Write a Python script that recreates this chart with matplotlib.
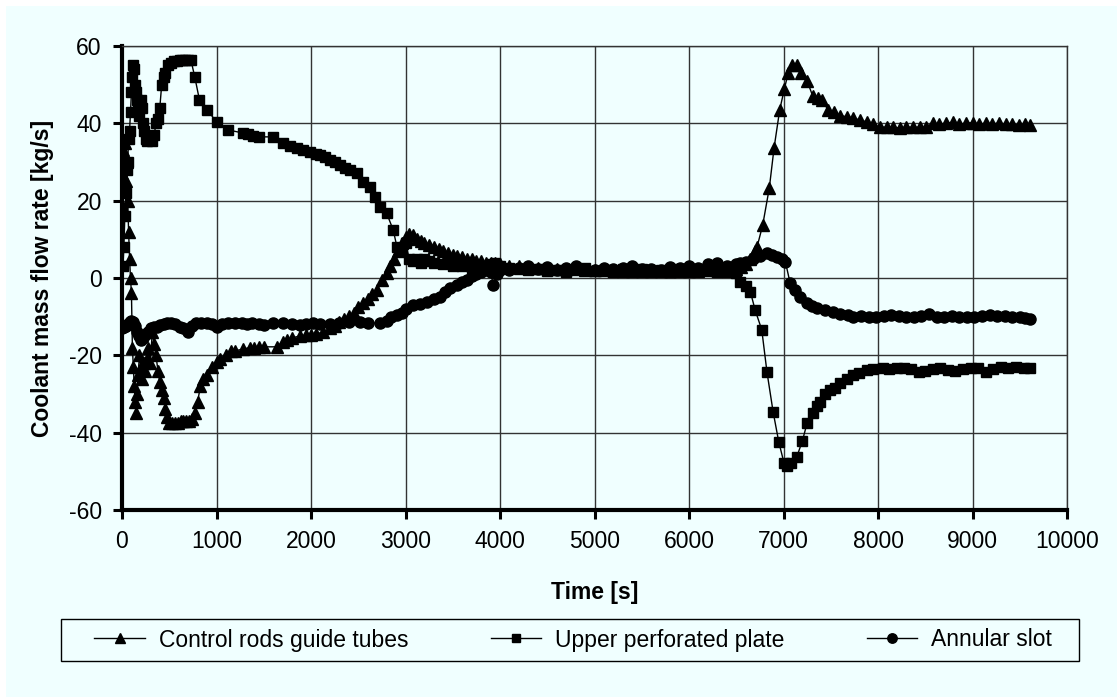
import matplotlib
matplotlib.use("Agg")
import matplotlib.pyplot as plt
from matplotlib.patches import Rectangle

plt.rcParams['font.family'] = ['Liberation Sans', 'DejaVu Sans']
plt.rcParams['axes.unicode_minus'] = False

# Control rods guide tubes (triangles)
t_crgt = [0, 10, 20, 30, 40, 50, 60, 70, 80, 90, 100, 110, 120, 130, 140, 150, 160, 170, 185, 200,
          215, 230, 245, 260, 280, 300, 320, 340, 360, 380, 400, 420, 440, 460, 480, 500, 530, 560, 590, 620,
          650, 680, 710, 740, 770, 800, 830, 860, 900, 950, 1000, 1040, 1100, 1150, 1200, 1280, 1350, 1400, 1450, 1500,
          1640, 1700, 1750, 1800, 1880, 1950, 2000, 2050, 2130, 2200, 2250, 2300, 2350, 2400, 2450, 2500, 2550, 2600, 2650, 2700,
          2750, 2800, 2840, 2880, 2920, 2960, 3000, 3040, 3080, 3120, 3160, 3200, 3250, 3300, 3350, 3400, 3450, 3500, 3550, 3600,
          3650, 3700, 3750, 3800, 3850, 3900, 3950, 4000, 4100, 4200, 4300, 4400, 4500, 4600, 4700, 4800, 4900, 5000,
          5100, 5200, 5300, 5400, 5500, 5600, 5700, 5800, 5900, 6000, 6100, 6200, 6300, 6400, 6500, 6550, 6600, 6650, 6700, 6720,
          6780, 6850, 6900, 6960, 7010, 7050, 7090, 7140, 7190, 7250, 7310, 7360, 7410, 7470, 7530, 7600, 7670, 7740, 7810, 7880,
          7950, 8020, 8090, 8160, 8230, 8300, 8370, 8440, 8510, 8580, 8650, 8720, 8790, 8860, 8930, 9000, 9070, 9140, 9210, 9280,
          9350, 9420, 9490, 9560, 9610]
v_crgt = [27, 33, 30, 35, 25, 30, 20, 12, 5, 0, -4, -18, -23, -28, -32, -35, -30, -25, -20, -23,
          -26, -22, -24, -21, -18, -22, -14, -17, -20, -24, -27, -29, -31, -34, -36, -37.5, -37.5, -37.5, -37.5, -37,
          -37, -37, -37, -36.5, -35, -32, -28, -26, -25, -23, -21.7, -21, -20, -19, -18.8, -18.4, -18, -18, -17.8, -17.8,
          -17.8, -16.5, -16, -15.5, -15, -14.8, -14.7, -14.5, -14, -13, -12.5, -11.5, -10.5, -9.8, -9, -7.5, -6.5, -5.5, -4.2, -3,
          -0.5, 1.3, 3, 5, 7, 9, 10.5, 11.5, 11, 10, 9.5, 9, 8.5, 8, 7.5, 7, 6.5, 6, 5.8, 5.5,
          5, 4.8, 4.5, 4.3, 4, 4, 3.8, 3.5, 3.2, 3, 2.8, 2.6, 2.5, 2.4, 2.3, 2.2, 2.1, 2,
          2, 2, 1.9, 1.9, 1.8, 1.8, 1.8, 1.8, 1.8, 1.9, 1.9, 2, 2, 2.1, 2.2, 2.8, 3.5, 5, 7, 8,
          13.7, 23.3, 33.6, 43.5, 49, 53, 55.1, 55, 53, 51, 47, 46.5, 46, 43.5, 43, 42, 41.7, 41.4, 40.8, 40.4,
          39.7, 39, 39, 39, 38.8, 39, 39, 39, 39, 40, 39.8, 40, 40.3, 39.8, 40, 40.2, 39.8, 40, 39.9, 40,
          39.7, 39.8, 39.6, 39.7, 39.5]

# Upper perforated plate (squares)
t_upp = [0, 10, 20, 30, 40, 50, 60, 70, 80, 90, 100, 110, 120, 130, 140, 150, 160, 170, 180, 190,
         200, 210, 220, 235, 250, 265, 280, 300, 320, 340, 360, 380, 400, 420, 440, 460, 490, 520, 550, 580,
         610, 640, 670, 700, 730, 770, 820, 900, 1000, 1120, 1280, 1330, 1390, 1450, 1600, 1700, 1780, 1850, 1920, 1990,
         2050, 2100, 2150, 2200, 2250, 2310, 2360, 2410, 2490, 2550, 2620, 2680, 2730, 2800, 2870, 2910, 2960, 3000, 3040, 3080,
         3120, 3160, 3200, 3250, 3300, 3400, 3500, 3600, 3700, 3800, 3900, 3950, 4000, 4100, 4200, 4300, 4400, 4500, 4600, 4700,
         4800, 4900, 5000, 5100, 5200, 5300, 5400, 5500, 5600, 5700, 5800, 5900, 6000, 6100, 6200, 6300, 6400, 6500, 6540, 6600,
         6650, 6700, 6770, 6825, 6890, 6950, 7005, 7040, 7080, 7140, 7200, 7250, 7310, 7350, 7390, 7440, 7490, 7540, 7600, 7670,
         7735, 7800, 7880, 7950, 8050, 8120, 8200, 8280, 8350, 8430, 8500, 8580, 8660, 8740, 8820, 8900, 8980, 9060, 9140, 9220,
         9300, 9380, 9460, 9540, 9610]
v_upp = [17, 3, 8, 16, 22, 28, 30, 36, 38, 43, 48, 52, 55, 54, 50, 48, 46, 44, 42, 45,
         46, 44, 40, 38, 36, 35.5, 36, 35.7, 35.5, 37, 40, 41, 44, 50, 52, 53, 55, 55.6, 56, 56,
         56.3, 56.5, 56.4, 56.5, 56.3, 52, 46, 43.5, 40.4, 38.3, 37.5, 37.2, 36.7, 36.5, 36.5, 34.9, 34.2, 33.6, 33, 32.6,
         32, 31.8, 31.2, 30.5, 30, 29.2, 28.5, 27.9, 27.1, 24.8, 23.5, 21, 18.4, 16.8, 12.4, 8, 7, 9, 5, 4.5,
         5, 4, 5, 4.5, 4, 3.5, 3, 3, 2.5, 3, 3.5, 4, 3, 2.5, 2.2, 2, 2.3, 1.8, 2, 1.5,
         2.2, 2.5, 1.8, 2, 1.6, 2.2, 1.8, 2.4, 1.7, 2, 1.5, 2.2, 1.8, 2, 2.5, 1.6, 1.5, 1.2, -1, -2,
         -3.6, -8.3, -13.4, -24.3, -34.6, -42.4, -47.8, -48.5, -47.8, -46.3, -42.1, -37.5, -34.9, -33, -32, -30, -29, -28.5, -27.2, -26,
         -25.1, -24.5, -23.8, -23.5, -23.3, -23.5, -23.4, -23.2, -23.6, -24.3, -24, -23.5, -23.3, -23.7, -24.1, -23.5, -23.3, -23.4, -24.2, -23.6,
         -23, -23.2, -23, -23.3, -23.3]

# Annular slot (circles)
t_ann = [0, 20, 40, 60, 80, 100, 120, 140, 160, 180, 200, 220, 250, 280, 310, 340, 370, 400, 440, 480,
         520, 560, 610, 650, 700, 740, 780, 840, 900, 950, 1000, 1060, 1120, 1200, 1270, 1320, 1380, 1450, 1500, 1600,
         1700, 1800, 1880, 1950, 2020, 2100, 2200, 2300, 2400, 2520, 2600, 2730, 2800, 2850, 2910, 2960, 3000, 3080, 3150, 3230,
         3300, 3370, 3420, 3470, 3550, 3600, 3650, 3700, 3750, 3800, 3850, 3900, 3930, 3970, 4000, 4100, 4200, 4300, 4400, 4500,
         4600, 4700, 4800, 4900, 5000, 5100, 5200, 5300, 5400, 5500, 5600, 5700, 5800, 5900, 6000, 6100, 6200, 6300, 6400, 6500,
         6540, 6600, 6680, 6750, 6830, 6880, 6930, 6980, 7020, 7070, 7120, 7175, 7250, 7300, 7355, 7440, 7520, 7600, 7680, 7740,
         7820, 7900, 7980, 8060, 8140, 8220, 8300, 8380, 8460, 8540, 8620, 8700, 8780, 8860, 8940, 9020, 9100, 9180, 9260, 9340,
         9420, 9500, 9560, 9610]
v_ann = [-13, -12.8, -12.5, -12, -11.4, -11, -11.5, -12.5, -14, -15, -16, -15.5, -14.5, -14, -13, -12.8, -12.6, -12.2, -12, -11.7,
         -11.7, -12, -12.6, -13, -14, -12.5, -11.7, -11.7, -11.7, -12, -12.6, -12, -11.7, -11.7, -11.7, -12, -11.7, -12, -12.2, -11.7,
         -11.7, -12, -12.2, -12, -11.7, -11.8, -12, -11.7, -11.5, -11.4, -11.6, -11.7, -11, -10, -9.6, -9, -8, -7, -6.6, -6.2,
         -5.5, -4.9, -3.5, -2.6, -1.8, -1, -0.5, 0.5, 1, 1.5, 2, 1.5, -1.8, 1, 2, 2, 2.5, 3, 2.2, 2.8,
         2, 2.5, 3, 2.3, 2, 2.7, 2.2, 2.5, 3, 2.2, 2.4, 2, 2.8, 2.5, 3, 2.6, 3.5, 4, 3.2, 3.5,
         3.8, 4.2, 5, 5.8, 6.5, 6, 5.5, 5, 4.2, -1.3, -3.1, -4.9, -6.5, -7.2, -7.8, -8.3, -8.8, -9.2, -9.6, -10,
         -9.8, -10, -10, -9.8, -9.6, -9.8, -10.2, -10, -9.8, -9.4, -10, -10, -9.9, -10, -10, -10, -9.8, -9.6, -9.8, -9.9,
         -10.2, -10, -10.3, -10.6]

bg = '#F0FFFF'
fig = plt.figure(figsize=(11.17, 6.97), dpi=100, facecolor='white')
fig.patches.append(Rectangle((6 / 1117, 0), 1, 1 - 6 / 697, transform=fig.transFigure,
                             facecolor=bg, edgecolor='none', zorder=-10))
ax = fig.add_axes([122 / 1117, 1 - 510 / 697, (1067 - 122) / 1117, (510 - 46) / 697])
ax.set_facecolor(bg)

ax.plot(t_crgt, v_crgt, color='black', lw=1, marker='^', ms=8.5, label='Control rods guide tubes')
ax.plot(t_upp, v_upp, color='black', lw=1, marker='s', ms=7.5, label='Upper perforated plate')
ax.plot(t_ann, v_ann, color='black', lw=1, marker='o', ms=8, label='Annular slot')

ax.set_xlim(0, 10000)
ax.set_ylim(-60, 60)
ax.set_xticks(range(0, 10001, 1000))
ax.set_yticks(range(-60, 61, 20))
ax.grid(True, color='#333333', lw=1)
ax.set_axisbelow(True)
for s in ['top', 'right']:
    ax.spines[s].set_color('#333333')
    ax.spines[s].set_linewidth(1)
for s in ['left', 'bottom']:
    ax.spines[s].set_color('black')
    ax.spines[s].set_linewidth(3)
ax.tick_params(direction='out', length=6.5, width=2.2, labelsize=16.5, pad=8)

fig.text(594.5 / 1117, 1 - 592 / 697, 'Time [s]', fontsize=16.5, fontweight='bold',
         ha='center', va='center')
fig.text(43 / 1117, 1 - 278 / 697, 'Coolant mass flow rate [kg/s]', fontsize=16.5,
         fontweight='bold', rotation=90, ha='center', va='center')

# legend box
fig.patches.append(Rectangle((61 / 1117, 1 - 661 / 697), (1079 - 61) / 1117, 42 / 697,
                             transform=fig.transFigure, facecolor=bg, edgecolor='black',
                             lw=1, zorder=1))
handles, labels = ax.get_legend_handles_labels()
leg = fig.legend(handles, labels, ncol=3, loc='center',
                 bbox_to_anchor=(573 / 1117, 1 - 640 / 697), fontsize=16.5, frameon=False,
                 handlelength=2.2, handletextpad=0.6, columnspacing=3.6, borderaxespad=0,
                 markerscale=0.85)

fig.savefig('out.png', dpi=100, facecolor=fig.get_facecolor())
